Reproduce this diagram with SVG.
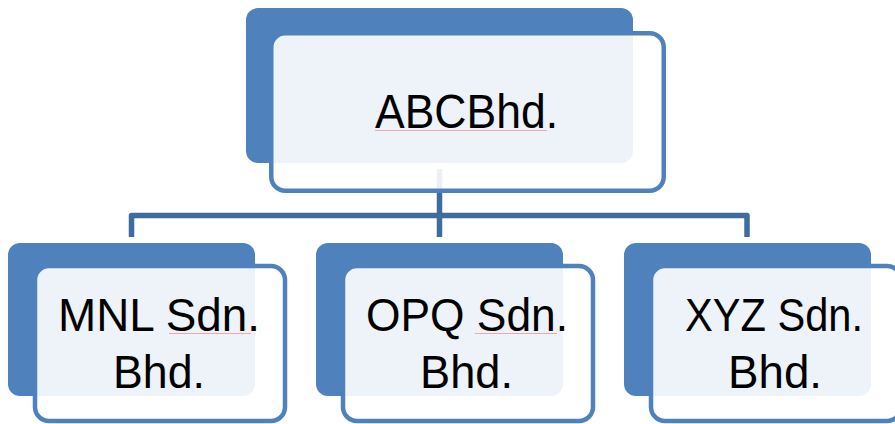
<svg xmlns="http://www.w3.org/2000/svg" width="895" height="424" viewBox="0 0 895 424">
<style>
.back{fill:#4F81BD;}
.front{fill:#FFFFFF;fill-opacity:0.9;stroke:#4F81BD;stroke-width:4.5;}
.conn{fill:none;stroke:#3F6C9E;stroke-width:5.5;stroke-linejoin:round;}
.lbl{font-family:"Liberation Sans",Arial,sans-serif;fill:#000000;}
.sp{stroke:#F4A6A6;stroke-width:1;fill:none;}
</style>
<rect width="895" height="424" fill="#FFFFFF"/>
<g id="connectors">
<path class="conn" d="M131.5 237 V215.5 H747 V237"/>
<path class="conn" d="M439.5 169 V237"/>
</g>
<g id="node-abc">
<rect class="back" x="246" y="8" width="387" height="155" rx="12"/>
<rect class="front" x="271.25" y="33.25" width="392.5" height="157.5" rx="14"/>
<text class="lbl" x="375" y="128" font-size="49" textLength="183" lengthAdjust="spacingAndGlyphs">ABCBhd.</text>
<path class="sp" d="M375 130.5 H547"/>
</g>
<g id="node-mnl">
<rect class="back" x="8" y="243" width="247" height="153" rx="12"/>
<rect class="front" x="35" y="266" width="250" height="155" rx="14"/>
<text class="lbl" x="58" y="331" font-size="46" textLength="202" lengthAdjust="spacingAndGlyphs">MNL Sdn.</text>
<text class="lbl" x="113" y="388" font-size="46" textLength="92" lengthAdjust="spacingAndGlyphs">Bhd.</text>
<path class="sp" d="M169 333.5 H251"/>
</g>
<g id="node-opq">
<rect class="back" x="316" y="243" width="247" height="153" rx="12"/>
<rect class="front" x="343" y="266" width="250" height="155" rx="14"/>
<text class="lbl" x="366" y="331" font-size="46" textLength="202" lengthAdjust="spacingAndGlyphs">OPQ Sdn.</text>
<text class="lbl" x="420" y="388" font-size="46" textLength="93" lengthAdjust="spacingAndGlyphs">Bhd.</text>
<path class="sp" d="M475 333.5 H557"/>
</g>
<g id="node-xyz">
<rect class="back" x="624" y="243" width="247" height="153" rx="12"/>
<rect class="front" x="651" y="266" width="250" height="155" rx="14"/>
<text class="lbl" x="685" y="331" font-size="46" textLength="178" lengthAdjust="spacingAndGlyphs">XYZ Sdn.</text>
<text class="lbl" x="728" y="388" font-size="46" textLength="94" lengthAdjust="spacingAndGlyphs">Bhd.</text>
</g>
</svg>
